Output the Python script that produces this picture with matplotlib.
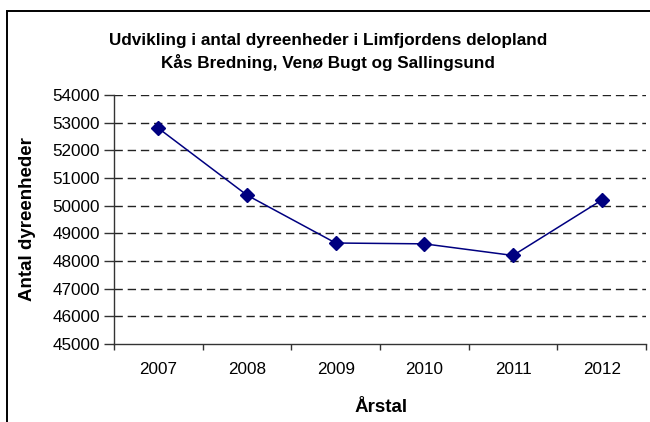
import matplotlib
matplotlib.use("Agg")
import matplotlib.pyplot as plt
from matplotlib.patches import Rectangle

plt.rcParams['font.family'] = ['Liberation Sans', 'DejaVu Sans']

years = ["2007", "2008", "2009", "2010", "2011", "2012"]
dyreenheder = [52800, 50380, 48650, 48620, 48200, 50200]
yticks = [45000, 46000, 47000, 48000, 49000, 50000, 51000, 52000, 53000, 54000]

title = "Udvikling i antal dyreenheder i Limfjordens delopland\nKås Bredning, Venø Bugt og Sallingsund"
ylabel = "Antal dyreenheder"
xlabel = "Årstal"

W, H = 650, 422
fig = plt.figure(figsize=(W / 100, H / 100), dpi=100)

# outer chart border (top and left visible)
fig.patches.append(Rectangle((7 / W, -0.1), 1.2, 1 - 11 / H + 0.1, transform=fig.transFigure,
                             fill=False, edgecolor='black', linewidth=1.4))

ax = fig.add_axes([114 / W, 1 - 344 / H, (646 - 114) / W, (344 - 95) / H])
x = list(range(len(years)))
ax.plot(x, dyreenheder, color='#000080', linewidth=1.1, marker='D', markersize=7,
        markerfacecolor='#000080', markeredgecolor='#000080', zorder=3)

ax.set_xlim(-0.5, len(years) - 0.5)
ax.set_ylim(45000, 54000)
ax.set_yticks(yticks)
ax.set_yticklabels([str(v) for v in yticks])
ax.set_xticks(x)
ax.set_xticklabels(years)
ax.set_xticks([i - 0.5 for i in range(len(years) + 1)], minor=True)

for v in yticks[1:]:
    ax.axhline(v, color='#222222', linewidth=1.0, linestyle=(0, (6, 3.5)), zorder=1)

for s in ['top', 'right']:
    ax.spines[s].set_visible(False)
for s in ['left', 'bottom']:
    ax.spines[s].set_color('#333333')
    ax.spines[s].set_linewidth(1.0)

ax.tick_params(axis='y', which='major', direction='out', length=7, width=1, color='#333333',
               pad=3, labelsize=12.3)
ax.tick_params(axis='x', which='major', length=0, pad=13, labelsize=12.3)
ax.tick_params(axis='x', which='minor', direction='out', length=4, width=1, color='#333333')

fig.text(328 / W, 1 - 52 / H, title, ha='center', va='center', fontsize=12.3, fontweight='bold',
         linespacing=1.42)
fig.text(28 / W, 1 - 219 / H, ylabel, ha='center', va='center', rotation=90, fontsize=13.5,
         fontweight='bold')
fig.text(381 / W, 1 - 408 / H, xlabel, ha='center', va='center', fontsize=13.5, fontweight='bold')

fig.savefig("out.png", dpi=100)
